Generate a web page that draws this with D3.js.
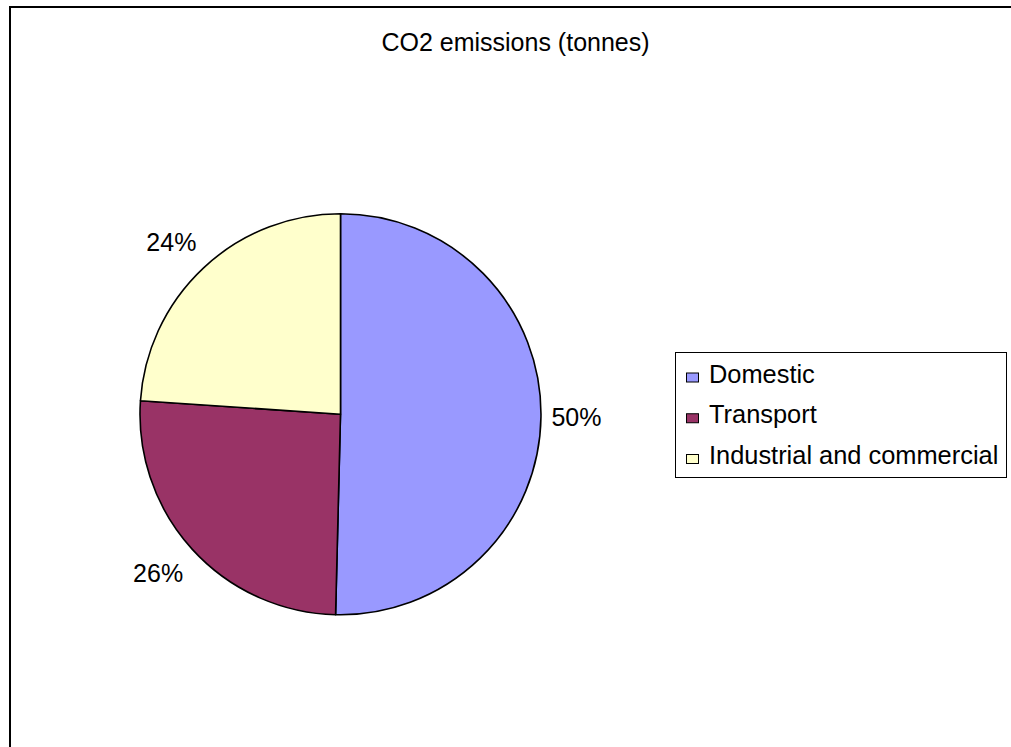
<!DOCTYPE html>
<html>
<head>
<meta charset="utf-8">
<script src="https://cdn.jsdelivr.net/npm/d3@7"></script>
<style>
  html, body { margin: 0; padding: 0; background: #fff; }
  svg { display: block; }
  text { font-family: "Liberation Sans", Arial, sans-serif; fill: #000; }
</style>
</head>
<body>
<svg id="chart" width="1011" height="747"></svg>
<script>
const categories = ["Domestic", "Transport", "Industrial and commercial"];
const values = [50.39, 25.69, 23.92];
const colors = ["#9999FF", "#993366", "#FFFFCC"];
const title = "CO2 emissions (tonnes)";

const svg = d3.select("#chart");
const W = 1011, H = 747;

// outer chart border (extends beyond right/bottom edges)
svg.append("rect")
  .attr("x", 10).attr("y", 7)
  .attr("width", W + 20).attr("height", H + 20)
  .attr("fill", "#fff")
  .attr("stroke", "#000")
  .attr("stroke-width", 2);

svg.append("text")
  .attr("x", 515.5).attr("y", 51)
  .attr("text-anchor", "middle")
  .style("font-size", "25px")
  .text(title);

const cx = 340.5, cy = 414.3, r = 200.5;
const total = d3.sum(values);
const pie = d3.pie().sort(null).value(d => d)(values);
const arc = d3.arc().innerRadius(0).outerRadius(r);
const labelArc = d3.arc().innerRadius(236).outerRadius(236);
const fmt = v => Math.round(v / total * 100) + "%";

const g = svg.append("g").attr("transform", `translate(${cx},${cy})`);
g.selectAll("path.slice")
  .data(pie)
  .join("path")
  .attr("class", "slice")
  .attr("d", arc)
  .attr("fill", (d, i) => colors[i])
  .attr("stroke", "#000")
  .attr("stroke-width", 1.6)
  .attr("stroke-linejoin", "round");

g.selectAll("text.lbl")
  .data(pie)
  .join("text")
  .attr("class", "lbl")
  .attr("transform", d => `translate(${labelArc.centroid(d)})`)
  .attr("text-anchor", "middle")
  .attr("dx", d => ((d.startAngle + d.endAngle) / 2 > Math.PI ? -8 : 0))
  .attr("dy", "0.36em")
  .style("font-size", "25px")
  .text(d => fmt(d.value));

// legend
const lg = svg.append("g");
lg.append("rect")
  .attr("x", 675.5).attr("y", 352.5)
  .attr("width", 331).attr("height", 125)
  .attr("fill", "#fff")
  .attr("stroke", "#000")
  .attr("stroke-width", 1);

const rowY = d3.scalePoint().domain(categories).range([382.5, 464]);
const items = lg.selectAll("g.item").data(categories).join("g").attr("class", "item");
items.append("rect")
  .attr("x", 686.5)
  .attr("y", d => rowY(d) - 9.5)
  .attr("width", 12).attr("height", 9)
  .attr("fill", (d, i) => colors[i])
  .attr("stroke", "#000")
  .attr("stroke-width", 1);
items.append("text")
  .attr("x", 709)
  .attr("y", d => rowY(d))
  .style("font-size", "25.4px")
  .text(d => d);
</script>
</body>
</html>
